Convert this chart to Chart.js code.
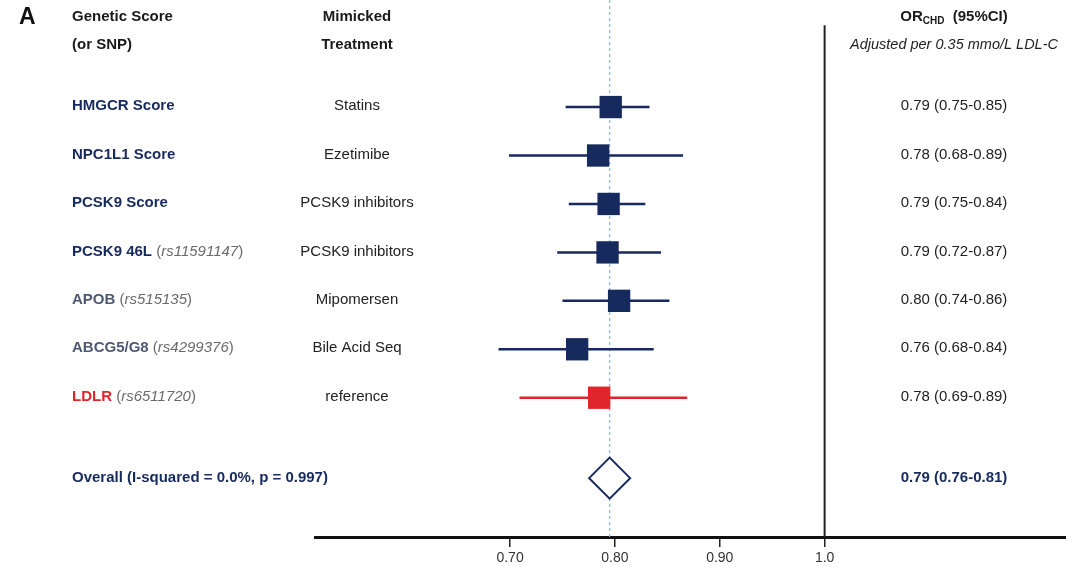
<!DOCTYPE html>
<html><head><meta charset="utf-8">
<script src="https://cdn.jsdelivr.net/npm/chart.js@4/dist/chart.umd.min.js"></script>
<style>html,body{margin:0;padding:0;background:#fff}#wrap{width:1066px;height:567px;position:relative}</style>
</head><body><div id="wrap"><canvas id="c" width="1066" height="567"></canvas></div>
<script>
// ---------- data ----------
const geneNames = ['HMGCR Score','NPC1L1 Score','PCSK9 Score','PCSK9 46L','APOB','ABCG5/G8','LDLR'];
const snpIds = ['','','','rs11591147','rs515135','rs4299376','rs6511720'];
const treatments = ['Statins','Ezetimibe','PCSK9 inhibitors','PCSK9 inhibitors','Mipomersen','Bile Acid Seq','reference'];
const rowGroup = ['main','main','main','main','other','other','ref'];
const orEst  = [0.796,0.784,0.794,0.793,0.804,0.764,0.785];
const ciLow  = [0.753,0.699,0.756,0.745,0.750,0.689,0.709];
const ciHigh = [0.833,0.865,0.829,0.844,0.852,0.837,0.869];
const orText = ['0.79 (0.75-0.85)','0.78 (0.68-0.89)','0.79 (0.75-0.84)','0.79 (0.72-0.87)','0.80 (0.74-0.86)','0.76 (0.68-0.84)','0.78 (0.69-0.89)'];
const rowIndex = [0,1,2,3,4,5,6];
const overallLabel = 'Overall (I-squared = 0.0%, p = 0.997)';
const overallEst = 0.795;
const overallText = '0.79 (0.76-0.81)';
const overallRow = 7.66;
const nullValue = 1.0;
const xTickValues = [0.7,0.8,0.9,1.0];
const xTickLabels = ['0.70','0.80','0.90','1.0'];

// ---------- styles ----------
const NAVY = '#172a5e', SLATE = '#4d5872', RED = '#e0262a', GREY = '#6a6a6a', INK = '#222222';
const FF = '"Liberation Sans", Arial, Helvetica, sans-serif';
const groupColor = {main: NAVY, other: SLATE, ref: RED};
const markColor = g => g === 'ref' ? RED : NAVY;
const Y_MIN = -2.21, Y_MAX = 8.875, Y_NULL_TOP = -1.69;

const datasets = [];
// reference line at OR = 1
datasets.push({type:'line', data:[{x:nullValue,y:Y_NULL_TOP},{x:nullValue,y:Y_MAX}], borderColor:'#222', borderWidth:2, pointRadius:0, order:5});
// dotted line at overall estimate
datasets.push({type:'line', data:[{x:overallEst,y:Y_MIN},{x:overallEst,y:Y_MAX}], borderColor:'#8db4dc', borderWidth:1.2, borderDash:[3,3], pointRadius:0, order:4});
// CI whiskers
rowIndex.forEach((r,i)=>{
  datasets.push({type:'line', data:[{x:ciLow[i],y:r},{x:ciHigh[i],y:r}], borderColor:markColor(rowGroup[i]), borderWidth:2.5, pointRadius:0, order:3});
});
// squares
datasets.push({type:'scatter', data:rowIndex.map((r,i)=>({x:orEst[i],y:r})), pointStyle:'rect', radius:15.8,
  backgroundColor:rowGroup.map(markColor), borderColor:rowGroup.map(markColor), borderWidth:0, order:2});
// overall diamond
datasets.push({type:'scatter', data:[{x:overallEst,y:overallRow}], pointStyle:'rectRot', radius:20.5,
  backgroundColor:'#ffffff', borderColor:NAVY, borderWidth:2, order:1});

function drawRuns(ctx, x, y, runs, align){
  let w = 0;
  runs.forEach(r=>{ctx.font = r.font; r.w = ctx.measureText(r.text).width; w += r.w;});
  let cx = align === 'center' ? x - w/2 : x;
  ctx.textAlign = 'left';
  runs.forEach(r=>{ctx.font = r.font; ctx.fillStyle = r.color; ctx.textBaseline = 'middle'; ctx.fillText(r.text, cx, y + (r.dy||0)); cx += r.w;});
}

const textPlugin = {
  id:'forestText',
  afterDraw(chart){
    const ctx = chart.ctx, ys = chart.scales.y;
    ctx.save();
    const B15 = 'bold 15px ' + FF, R15 = '15px ' + FF, I15 = 'italic 15px ' + FF;
    // panel letter
    drawRuns(ctx, 19, 18, [{text:'A', font:'bold 23px ' + FF, color:'#111'}], 'left');
    // column headers
    drawRuns(ctx, 72, 17, [{text:'Genetic Score', font:B15, color:'#1a1a1a'}], 'left');
    drawRuns(ctx, 72, 45, [{text:'(or SNP)', font:B15, color:'#1a1a1a'}], 'left');
    drawRuns(ctx, 357, 17, [{text:'Mimicked', font:B15, color:'#1a1a1a'}], 'center');
    drawRuns(ctx, 357, 45, [{text:'Treatment', font:B15, color:'#1a1a1a'}], 'center');
    drawRuns(ctx, 954, 17, [{text:'OR', font:B15, color:'#1a1a1a'},{text:'CHD', font:'bold 10px ' + FF, color:'#1a1a1a', dy:4},{text:'  (95%CI)', font:B15, color:'#1a1a1a'}], 'center');
    drawRuns(ctx, 954, 45, [{text:'Adjusted per 0.35 mmo/L LDL-C', font:'italic 14.5px ' + FF, color:'#222'}], 'center');
    // rows
    rowIndex.forEach((r,i)=>{
      const y = ys.getPixelForValue(r) - 1;
      const runs = [{text:geneNames[i], font:B15, color:groupColor[rowGroup[i]]}];
      if (snpIds[i]) {
        runs.push({text:' (', font:R15, color:GREY});
        runs.push({text:snpIds[i], font:I15, color:GREY});
        runs.push({text:')', font:R15, color:GREY});
      }
      drawRuns(ctx, 72, y, runs, 'left');
      drawRuns(ctx, 357, y, [{text:treatments[i], font:R15, color:INK}], 'center');
      drawRuns(ctx, 954, y, [{text:orText[i], font:R15, color:INK}], 'center');
    });
    const yo = ys.getPixelForValue(overallRow);
    drawRuns(ctx, 72, yo, [{text:overallLabel, font:B15, color:NAVY}], 'left');
    drawRuns(ctx, 954, yo, [{text:overallText, font:B15, color:NAVY}], 'center');
    ctx.restore();
  }
};

new Chart(document.getElementById('c'), {
  data:{datasets},
  options:{
    responsive:false, animation:false, devicePixelRatio:1,
    layout:{autoPadding:false, padding:{left:315, right:0, top:0, bottom:0}},
    plugins:{legend:{display:false}, tooltip:{enabled:false}},
    scales:{
      x:{type:'linear', position:'bottom', min:0.514, max:1.2302,
        afterBuildTicks:s=>{s.ticks = xTickValues.map(v=>({value:v}));},
        afterFit:s=>{s.height = 30;},
        grid:{display:true, drawOnChartArea:false, drawTicks:true, tickLength:10, color:'#222', lineWidth:1.5},
        border:{display:true, color:'#111', width:3},
        ticks:{autoSkip:false, maxRotation:0, padding:3, color:'#333', font:{family:FF, size:14},
          callback:(v)=>{const k = xTickValues.findIndex(t=>Math.abs(t-v)<1e-9); return k>=0 ? xTickLabels[k] : '';}}
      },
      y:{type:'linear', reverse:true, min:Y_MIN, max:Y_MAX, display:false}
    }
  },
  plugins:[textPlugin]
});
</script></body></html>
